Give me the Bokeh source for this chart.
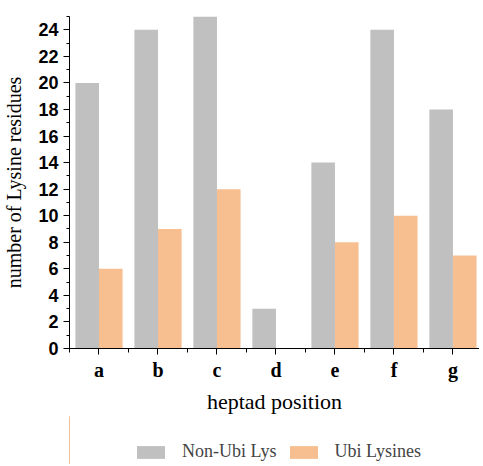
from bokeh.plotting import figure
from bokeh.models import Range1d, FixedTicker, Legend, LegendItem, ColumnDataSource
from bokeh.transform import dodge
from bokeh.layouts import column
from bokeh.embed import file_html
from bokeh.resources import INLINE

positions = ["a", "b", "c", "d", "e", "f", "g"]
non_ubi = [20, 24, 25, 3, 14, 24, 18]
ubi = [6, 9, 12, 0, 8, 10, 7]
y_ticks = list(range(0, 25, 2))
y_minor = list(range(1, 26, 2))
series_labels = ["Non-Ubi Lys", "Ubi Lysines"]
colors = ["#C0C0C0", "#F7BF8F"]

idx = list(range(len(positions)))
src = ColumnDataSource(data=dict(x=idx, non_ubi=non_ubi, ubi=ubi))

p = figure(frame_width=410, frame_height=332, output_backend="svg",
           toolbar_location=None, x_range=Range1d(-0.5, 6.45),
           y_range=Range1d(0, 25), min_border_left=65, min_border_right=0,
           min_border_top=16, min_border_bottom=0)
p.outline_line_color = None
p.grid.grid_line_color = None
p.background_fill_color = "white"

p.vbar(x=dodge("x", -0.2, range=p.x_range), top="non_ubi", width=0.4,
       source=src, fill_color=colors[0], line_color=None)
p.vbar(x=dodge("x", 0.2, range=p.x_range), top="ubi", width=0.4,
       source=src, fill_color=colors[1], line_color=None)

p.xaxis.ticker = FixedTicker(ticks=idx, minor_ticks=[i - 0.5 for i in idx] + [len(idx) - 0.5])
p.xaxis.major_label_overrides = {i: s for i, s in zip(idx, positions)}
p.yaxis.ticker = FixedTicker(ticks=y_ticks, minor_ticks=y_minor)

for ax in (p.xaxis, p.yaxis):
    ax.axis_line_color = "black"
    ax.major_tick_line_color = "black"
    ax.minor_tick_line_color = "black"
    ax.major_tick_in = 0
    ax.minor_tick_in = 0
    ax.major_tick_out = 6
    ax.axis_label_text_font = "Liberation Serif"
    ax.axis_label_text_font_style = "normal"
    ax.axis_label_text_color = "black"
    ax.major_label_text_color = "black"

p.xaxis.minor_tick_out = 4
p.yaxis.minor_tick_out = 3
p.xaxis.axis_label = "heptad position"
p.yaxis.axis_label = "number of Lysine residues"
p.xaxis.axis_label_text_font_size = "22px"
p.yaxis.axis_label_text_font_size = "20px"
p.xaxis.major_label_text_font = "Liberation Serif"
p.xaxis.major_label_text_font_style = "bold"
p.xaxis.major_label_text_font_size = "20px"
p.xaxis.major_label_standoff = 4
p.xaxis.axis_label_standoff = 5
p.yaxis.major_label_text_font = "Liberation Sans"
p.yaxis.major_label_text_font_style = "bold"
p.yaxis.major_label_text_font_size = "18px"
p.yaxis.major_label_standoff = 5
p.yaxis.axis_label_standoff = 10

# legend strip below the chart (its own small figure so nothing is clipped)
pl = figure(width=475, height=48, output_backend="svg", toolbar_location=None,
            x_axis_location=None, y_axis_location=None,
            x_range=Range1d(100, 101), y_range=Range1d(0, 1),
            min_border_left=0, min_border_right=0, min_border_top=0, min_border_bottom=0)
pl.outline_line_color = None
pl.outline_line_alpha = 0
pl.xgrid.visible = False
pl.ygrid.visible = False
pl.border_fill_color = "white"
pl.background_fill_color = "white"
l1 = pl.vbar(x="x", top="non_ubi", width=0.4, source=src, fill_color=colors[0], line_color=None)
l2 = pl.vbar(x="x", top="ubi", width=0.4, source=src, fill_color=colors[1], line_color=None)

legend = Legend(items=[LegendItem(label=series_labels[0], renderers=[l1]),
                       LegendItem(label=series_labels[1], renderers=[l2])],
                orientation="horizontal", location=(64, 2),
                border_line_color=None, background_fill_alpha=0,
                padding=0, margin=0, spacing=9, glyph_width=35, glyph_height=16,
                label_standoff=14, label_text_font="Liberation Serif",
                label_text_font_size="18px", label_height=16)
pl.add_layout(legend, "center")

layout = column(p, pl, spacing=0)
open("out.html", "w").write(file_html(layout, INLINE))
